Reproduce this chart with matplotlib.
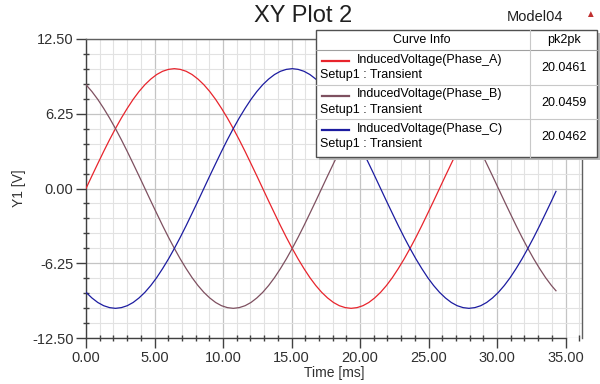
import numpy as np
import matplotlib
matplotlib.use("Agg")
import matplotlib.pyplot as plt
from matplotlib.patches import Rectangle
from matplotlib.lines import Line2D

plt.rcParams['font.family'] = ['Liberation Sans', 'DejaVu Sans']

# time samples [ms]
time_ms = [0, 0.43, 0.86, 1.29, 1.72, 2.15, 2.58, 3.01, 3.44, 3.87,
           4.30, 4.73, 5.16, 5.59, 6.02, 6.45, 6.88, 7.31, 7.74, 8.17,
           8.60, 9.03, 9.46, 9.89, 10.32, 10.75, 11.18, 11.61, 12.04, 12.47,
           12.90, 13.33, 13.76, 14.19, 14.62, 15.05, 15.48, 15.91, 16.34, 16.77,
           17.20, 17.63, 18.06, 18.49, 18.92, 19.35, 19.78, 20.21, 20.64, 21.07,
           21.50, 21.93, 22.36, 22.79, 23.22, 23.65, 24.08, 24.51, 24.94, 25.37,
           25.80, 26.23, 26.66, 27.09, 27.52, 27.95, 28.38, 28.81, 29.24, 29.67,
           30.10, 30.53, 30.96, 31.39, 31.82, 32.25, 32.68, 33.11, 33.54, 33.97,
           34.30]

# induced voltage [V]
phase_a = [0, 1.05, 2.08, 3.10, 4.08, 5.01, 5.89, 6.70, 7.45, 8.11,
           8.68, 9.15, 9.53, 9.80, 9.96, 10.02, 9.96, 9.80, 9.53, 9.15,
           8.68, 8.11, 7.45, 6.70, 5.89, 5.01, 4.08, 3.10, 2.08, 1.05,
           0, -1.05, -2.08, -3.10, -4.08, -5.01, -5.89, -6.70, -7.45, -8.11,
           -8.68, -9.15, -9.53, -9.80, -9.96, -10.02, -9.96, -9.80, -9.53, -9.15,
           -8.68, -8.11, -7.45, -6.70, -5.89, -5.01, -4.08, -3.10, -2.08, -1.05,
           0, 1.05, 2.08, 3.10, 4.08, 5.01, 5.89, 6.70, 7.45, 8.11,
           8.68, 9.15, 9.53, 9.80, 9.96, 10.02, 9.96, 9.80, 9.53, 9.15,
           8.80]
phase_b = [8.68, 8.11, 7.45, 6.70, 5.89, 5.01, 4.08, 3.10, 2.08, 1.05,
           0, -1.05, -2.08, -3.10, -4.08, -5.01, -5.89, -6.70, -7.45, -8.11,
           -8.68, -9.15, -9.53, -9.80, -9.96, -10.02, -9.96, -9.80, -9.53, -9.15,
           -8.68, -8.11, -7.45, -6.70, -5.89, -5.01, -4.08, -3.10, -2.08, -1.05,
           0, 1.05, 2.08, 3.10, 4.08, 5.01, 5.89, 6.70, 7.45, 8.11,
           8.68, 9.15, 9.53, 9.80, 9.96, 10.02, 9.96, 9.80, 9.53, 9.15,
           8.68, 8.11, 7.45, 6.70, 5.89, 5.01, 4.08, 3.10, 2.08, 1.05,
           0, -1.05, -2.08, -3.10, -4.08, -5.01, -5.89, -6.70, -7.45, -8.11,
           -8.55]
phase_c = [-8.68, -9.15, -9.53, -9.80, -9.96, -10.02, -9.96, -9.80, -9.53, -9.15,
           -8.68, -8.11, -7.45, -6.70, -5.89, -5.01, -4.08, -3.10, -2.08, -1.05,
           0, 1.05, 2.08, 3.10, 4.08, 5.01, 5.89, 6.70, 7.45, 8.11,
           8.68, 9.15, 9.53, 9.80, 9.96, 10.02, 9.96, 9.80, 9.53, 9.15,
           8.68, 8.11, 7.45, 6.70, 5.89, 5.01, 4.08, 3.10, 2.08, 1.05,
           0, -1.05, -2.08, -3.10, -4.08, -5.01, -5.89, -6.70, -7.45, -8.11,
           -8.68, -9.15, -9.53, -9.80, -9.96, -10.02, -9.96, -9.80, -9.53, -9.15,
           -8.68, -8.11, -7.45, -6.70, -5.89, -5.01, -4.08, -3.10, -2.08, -1.05,
           -0.24]

series_names = ["InducedVoltage(Phase_A)", "InducedVoltage(Phase_B)", "InducedVoltage(Phase_C)"]
pk2pk = ["20.0461", "20.0459", "20.0462"]
colors = ["#e8242c", "#7e5060", "#1c1ca0"]

yticks = [-12.5, -6.25, 0, 6.25, 12.5]
xticks = [0, 5, 10, 15, 20, 25, 30, 35]

W, H = 600, 384
fig = plt.figure(figsize=(6, 3.84), dpi=100)
ax = fig.add_axes([86 / W, 1 - 338 / H, (582 - 86) / W, (338 - 39) / H])

for y, c in zip([phase_a, phase_b, phase_c], colors):
    ax.plot(time_ms, y, color=c, lw=0.9, zorder=3)

ax.set_xlim(0, 36.2)
ax.set_ylim(-12.5, 12.5)
ax.set_xticks(xticks)
ax.set_xticklabels(["%.2f" % v for v in xticks])
ax.set_yticks(yticks)
ax.set_yticklabels(["%.2f" % v for v in yticks])
ax.set_xticks(np.arange(0, 37, 1), minor=True)
ax.set_yticks(np.arange(-12.5, 12.6, 1.25), minor=True)
ax.grid(which='minor', color='#e2e2e2', lw=0.8, zorder=0)
ax.grid(which='major', color='#c4c4c4', lw=0.9, zorder=0)
ax.tick_params(which='major', direction='out', length=7, width=1, color='#404040',
               labelsize=10.5, pad=2, labelcolor='#303030')
ax.tick_params(which='minor', direction='inout', length=5, width=1, color='#404040')
for s in ax.spines.values():
    s.set_color('#404040')
    s.set_linewidth(1)
ax.spines['bottom'].set_bounds(0, 35)
ax.spines['top'].set_color('#606060')
ax.spines['right'].set_color('#606060')

ax.set_xlabel("Time [ms]", fontsize=10, labelpad=1, color='#303030')
ax.set_ylabel("Y1 [V]", fontsize=10, labelpad=4, color='#303030')

fig.text(303 / W, 1 - 16 / H, "XY Plot 2", fontsize=17, ha='center', va='center', color='#202020')
fig.text(535 / W, 1 - 17 / H, "Model04", fontsize=10.5, ha='center', va='center', color='#202020')
fig.text(590 / W, 1 - 14 / H, "\u25B2", fontsize=7, ha='center', va='center', color='#c03030')


def fx(x):
    return x / W


def fy(y):
    return 1 - y / H


# legend table
fig.patches.append(Rectangle((fx(319), fy(160)), (597 - 316) / W, (157 - 30) / H,
                             transform=fig.transFigure, facecolor='#b8b8b8', edgecolor='none', zorder=5))
fig.patches.append(Rectangle((fx(316), fy(157)), (597 - 316) / W, (157 - 30) / H,
                             transform=fig.transFigure, facecolor='white', edgecolor='#505050', lw=1, zorder=6))
fig.lines.append(Line2D([fx(316), fx(597)], [fy(50), fy(50)], transform=fig.transFigure,
                        color='#a0a0a0', lw=0.8, zorder=7))
for yy in [85, 119]:
    fig.lines.append(Line2D([fx(316), fx(597)], [fy(yy), fy(yy)], transform=fig.transFigure,
                            color='#c8c8c8', lw=0.8, zorder=7))
fig.lines.append(Line2D([fx(530), fx(530)], [fy(30), fy(157)], transform=fig.transFigure,
                        color='#c8c8c8', lw=0.8, zorder=7))
fig.text(fx(422), fy(40), "Curve Info", fontsize=9, ha='center', va='center', zorder=8)
fig.text(fx(564), fy(40), "pk2pk", fontsize=9, ha='center', va='center', zorder=8)
for i in range(3):
    top = 50 + i * 34.5
    fig.lines.append(Line2D([fx(322), fx(349)], [fy(top + 11), fy(top + 11)], transform=fig.transFigure,
                            color=colors[i], lw=1.6, zorder=8))
    fig.text(fx(357), fy(top + 10), series_names[i], fontsize=9, ha='left', va='center', zorder=8)
    fig.text(fx(320), fy(top + 25), "Setup1 : Transient", fontsize=9, ha='left', va='center', zorder=8)
    fig.text(fx(564), fy(top + 18), pk2pk[i], fontsize=9, ha='center', va='center', zorder=8)

fig.savefig("out.png", dpi=100)
